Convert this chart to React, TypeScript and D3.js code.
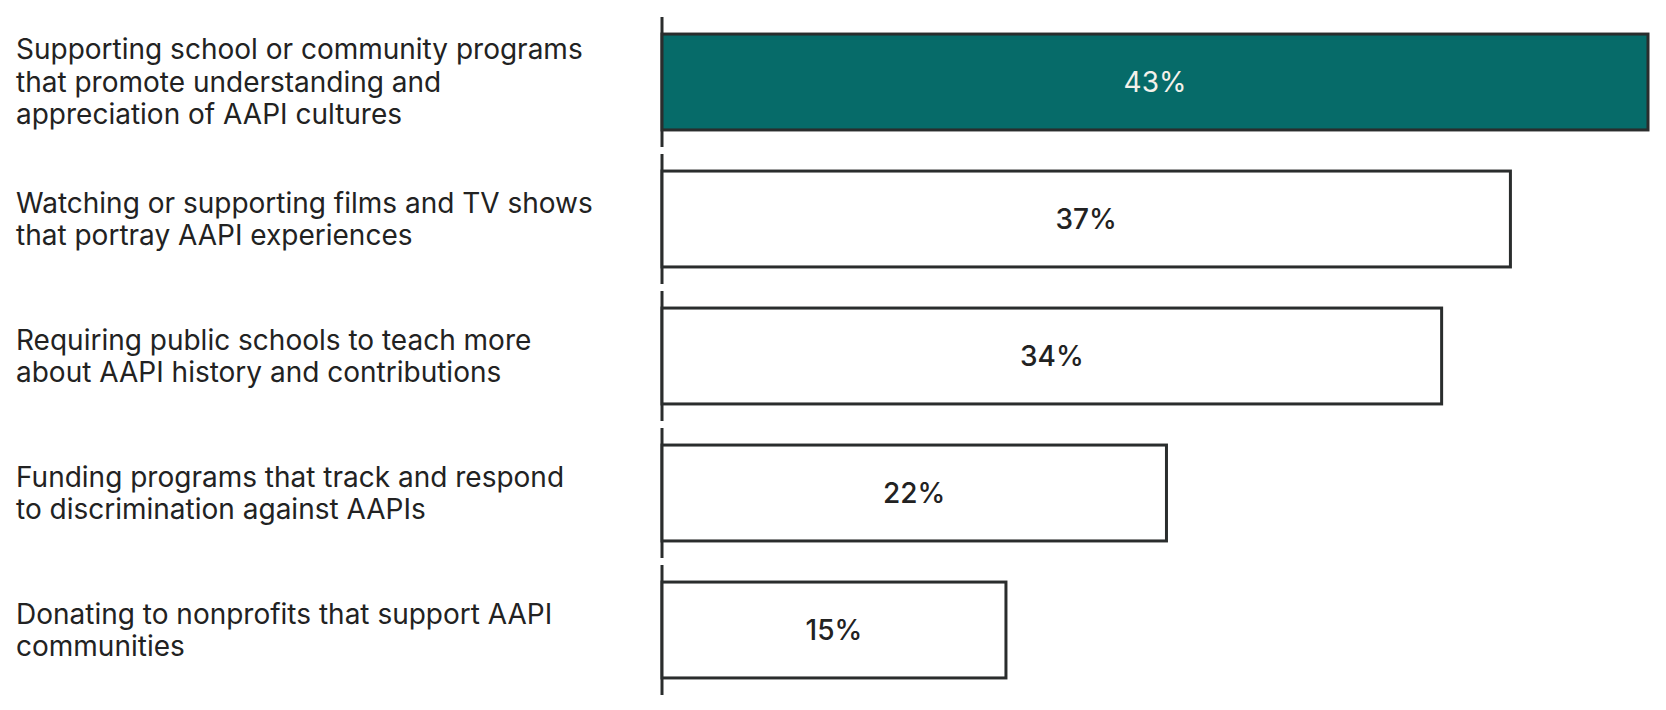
import React from "react";
import * as d3 from "d3";

const categories = [
  ["Supporting school or community programs", "that promote understanding and", "appreciation of AAPI cultures"],
  ["Watching or supporting films and TV shows", "that portray AAPI experiences"],
  ["Requiring public schools to teach more", "about AAPI history and contributions"],
  ["Funding programs that track and respond", "to discrimination against AAPIs"],
  ["Donating to nonprofits that support AAPI", "communities"],
];
const values = [43, 37, 34, 22, 15];
const highlighted = [true, false, false, false, false];

const W = 1666;
const H = 710;

export default function App() {
  const x = d3.scaleLinear().domain([0, 43]).range([662, 1648]);
  const y = d3
    .scaleBand<number>()
    .domain(values.map((_, i) => i))
    .range([13.5, 13.5 + 137 * 5])
    .paddingInner(0.3)
    .paddingOuter(0.15);
  const step = y.step();
  const outer = step * 0.15;
  const lineH = 32.5;
  return (
    <svg width={W} height={H} style={{ position: "absolute", left: 0, top: 0, background: "#fff" }}>
      {values.map((v, i) => {
        const top = y(i)!;
        const bw = y.bandwidth();
        const cy = top + bw / 2;
        const lines = categories[i];
        return (
          <g key={i}>
            <line
              x1={x(0)}
              x2={x(0)}
              y1={top - outer + 3.5}
              y2={top + bw + outer - 3.5}
              stroke="#2a2d2d"
              strokeWidth={3}
            />
            <rect
              x={x(0)}
              y={top}
              width={x(v) - x(0)}
              height={bw}
              fill={highlighted[i] ? "#066b69" : "#fff"}
              stroke="#2a2d2d"
              strokeWidth={3}
            />
            <text
              x={(x(0) + x(v)) / 2}
              y={cy}
              dy="0.36em"
              textAnchor="middle"
              fontFamily="Inter, sans-serif"
              fontSize={28}
              fontWeight={highlighted[i] ? 400 : 500}
              fill={highlighted[i] ? "#f4f1ea" : "#222"}
            >
              {v}%
            </text>
            <text fontFamily="Inter, sans-serif" fontSize={28} fill="#222">
              {lines.map((l, j) => (
                <tspan
                  key={j}
                  x={16}
                  y={cy + (j - (lines.length - 1) / 2) * lineH}
                  dy="0.35em"
                >
                  {l}
                </tspan>
              ))}
            </text>
          </g>
        );
      })}
    </svg>
  );
}
